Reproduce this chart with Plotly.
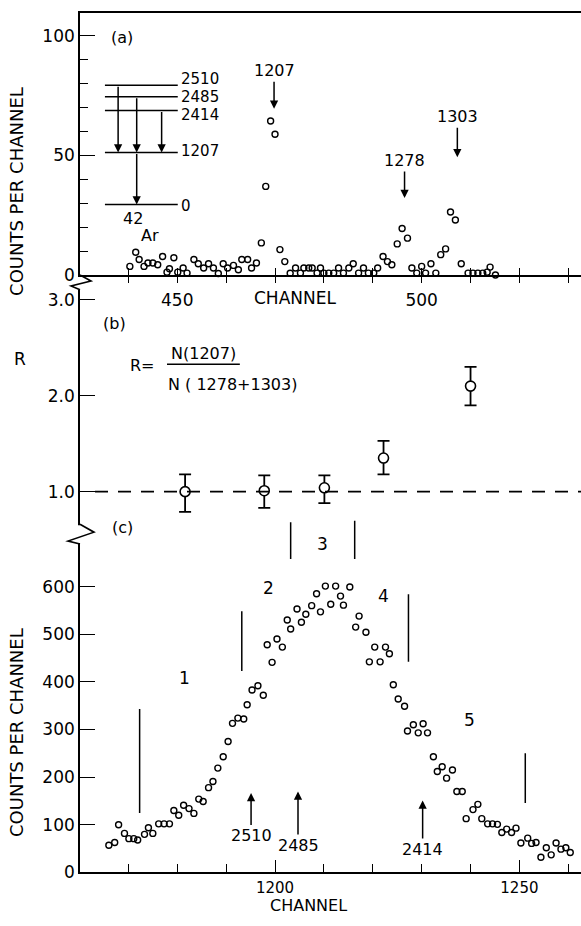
import plotly.graph_objects as go

# ---------------- data ----------------
# panel (a): counts per channel, channels 430-530
a_channel = [440.3, 441.5, 442.2, 443.2, 444.0, 445.0, 446.0, 447.0, 447.9, 448.4,
             449.3, 450.1, 451.2, 452.0, 453.4, 454.3, 455.4, 456.4, 457.4, 458.4,
             459.4, 460.3, 461.5, 462.5, 463.2, 464.4, 465.2, 466.2, 467.2, 468.1,
             469.1, 470.0, 471.0, 472.0, 473.1, 474.2, 475.2, 475.9, 476.9, 477.6,
             478.6, 479.3, 480.0, 481.0, 482.0, 483.0, 484.0, 485.1, 486.0, 487.1,
             488.1, 489.1, 490.2, 491.0, 492.1, 493.0, 493.9, 495.0, 496.0, 497.1,
             498.0, 499.0, 500.0, 500.8, 501.9, 502.9, 503.9, 504.9, 505.9, 506.9,
             508.1, 509.5, 510.5, 511.5, 512.5, 513.4, 514.0, 515.1]
a_counts = [3.6, 9.5, 6.5, 3.6, 5, 5, 4.3, 7.7, 1.2, 2.6,
            7.2, 1.2, 2.9, 0.8, 6.5, 4.7, 2.9, 4.7, 2.9, 0.6,
            4.7, 2.9, 4, 2.2, 6.5, 6.5, 2.9, 5, 13.4, 37,
            64.3, 58.8, 10.6, 5.6, 0.7, 2.9, 0.8, 2.9, 2.9, 2.9,
            0.8, 2.9, 0.8, 0.8, 0.8, 2.9, 0.8, 2.9, 4.7, 0.8,
            2.9, 0.8, 0.8, 2.9, 7.7, 5.6, 4.3, 13, 19.4, 15.4,
            2.9, 0.8, 3.6, 0.8, 4.7, 0.8, 8.5, 10.9, 26.3, 23,
            4.7, 0.8, 0.8, 0.8, 0.8, 1.2, 3.3, 0]
a_tick_vals = [440, 450, 460, 470, 480, 490, 500, 510, 520, 530]
a_tick_text = ["", "450", "", "", "", "", "500", "", "", ""]

peak_labels = ["1207", "1278", "1303"]
peak_channel = [469.8, 496.5, 507.3]
peak_counts = [69.4, 32.2, 49.2]

level_energies = ["2510", "2485", "2414", "1207", "0"]

# panel (b): ratio R
r_channel = [1181.6, 1197.8, 1210.1, 1222.2, 1240.0]
r_value = [1.00, 1.01, 1.04, 1.35, 2.10]
r_high = [1.18, 1.17, 1.17, 1.53, 2.30]
r_low = [0.79, 0.83, 0.88, 1.18, 1.90]
r_reference = 1.0

# panel (c): counts per channel, channels 1160-1262
c_channel = [1166.0, 1167.2, 1168.0, 1169.2, 1170.1, 1171.1, 1171.9, 1173.3, 1174.1, 1175.0,
             1176.2, 1177.3, 1178.4, 1179.3, 1180.3, 1181.3, 1182.4, 1183.4, 1184.4, 1185.3,
             1186.4, 1187.3, 1188.3, 1189.4, 1190.4, 1191.3, 1192.4, 1193.6, 1194.3, 1195.3,
             1196.5, 1197.6, 1198.4, 1199.4, 1200.4, 1201.5, 1202.5, 1203.2, 1204.5, 1205.4,
             1206.3, 1207.5, 1208.5, 1209.3, 1210.3, 1211.4, 1212.4, 1213.4, 1214.0, 1215.3,
             1216.5, 1217.2, 1218.6, 1219.3, 1220.4, 1221.5, 1222.6, 1223.4, 1224.2, 1225.2,
             1226.5, 1227.1, 1228.3, 1229.3, 1230.3, 1231.2, 1232.4, 1233.2, 1234.2, 1235.1,
             1236.3, 1237.2, 1238.3, 1239.1, 1240.5, 1241.5, 1242.3, 1243.5, 1244.5, 1245.5,
             1246.4, 1247.4, 1248.4, 1249.3, 1250.3, 1251.7, 1252.5, 1253.4, 1254.4, 1255.5,
             1256.5, 1257.5, 1258.5, 1259.5, 1260.4]
c_counts = [57, 63, 100, 82, 71, 71, 68, 80, 94, 82,
            102, 102, 102, 130, 120, 141, 134, 124, 154, 149,
            178, 191, 219, 243, 275, 313, 324, 322, 352, 383,
            392, 372, 478, 441, 490, 473, 530, 511, 553, 525,
            542, 560, 585, 547, 601, 563, 601, 580, 561, 599,
            515, 538, 504, 442, 473, 442, 473, 459, 394, 364,
            349, 297, 310, 293, 312, 293, 243, 212, 222, 198,
            215, 170, 170, 113, 132, 143, 113, 102, 102, 101,
            84, 91, 84, 93, 62, 72, 61, 63, 32, 52,
            37, 62, 49, 52, 42]
c_tick_vals = [1200, 1250]
c_y_ticks = [0, 100, 200, 300, 400, 500, 600]

region_names = ["1", "2", "3", "4", "5"]
region_bound_channel = [1172.3, 1193.2, 1203.2, 1216.3, 1227.3, 1251.2]
region_bound_low = [125, 423, 658, 658, 442, 146]
region_bound_high = [343, 548, 735, 738, 584, 250]

gamma_labels = ["2510", "2485", "2414"]
gamma_channel = [1195.1, 1204.7, 1230.2]
gamma_counts = [167, 170, 151]

# ---------------- layout helpers ----------------
W, H = 581, 926
L = 80
FONT = "DejaVu Sans"
A_RANGE = [430.1, 532.6]
C_RANGE = [1160.1, 1262.6]


def px(x):
    return (x - L) / (W - L)


def py(y):
    return (H - y) / H


black = "black"
fig = go.Figure()

# panel (a)
fig.add_trace(go.Scatter(
    x=a_channel, y=a_counts, mode="markers", xaxis="x", yaxis="y",
    marker=dict(symbol="circle-open", size=6, color=black, line=dict(width=1.4, color=black)),
    cliponaxis=False, showlegend=False, hoverinfo="skip"))
fig.add_trace(go.Scatter(x=[None], y=[None], xaxis="x4", yaxis="y", showlegend=False,
                         hoverinfo="skip", mode="markers"))

# panel (b)
fig.add_trace(go.Scatter(
    x=r_channel, y=r_value, mode="markers", xaxis="x2", yaxis="y2",
    error_y=dict(type="data", symmetric=False,
                 array=[h - v for h, v in zip(r_high, r_value)],
                 arrayminus=[v - lo for v, lo in zip(r_value, r_low)],
                 thickness=1.8, width=6, color=black),
    marker=dict(symbol="circle", size=10, color="white", line=dict(width=1.6, color=black)),
    showlegend=False, hoverinfo="skip"))

# panel (c) region boundaries
bx, by = [], []
for x, lo, hi in zip(region_bound_channel, region_bound_low, region_bound_high):
    bx += [x, x, None]
    by += [lo, hi, None]
fig.add_trace(go.Scatter(x=bx, y=by, mode="lines", xaxis="x3", yaxis="y3",
                         line=dict(color=black, width=1.5), showlegend=False, hoverinfo="skip"))
fig.add_trace(go.Scatter(
    x=c_channel, y=c_counts, mode="markers", xaxis="x3", yaxis="y3",
    marker=dict(symbol="circle-open", size=6, color=black, line=dict(width=1.4, color=black)),
    cliponaxis=False, showlegend=False, hoverinfo="skip"))

axis_common = dict(showgrid=False, zeroline=False, linecolor=black, linewidth=1.6,
                   tickcolor=black, tickwidth=1.4)

fig.update_layout(
    width=W, height=H, autosize=False,
    margin=dict(l=L, r=0, t=0, b=0),
    paper_bgcolor="white", plot_bgcolor="white",
    font=dict(family=FONT, size=16, color=black),
    xaxis=dict(domain=[0, 1], anchor="y", range=A_RANGE, showline=True, mirror=True,
               ticks="outside", ticklen=6, tickvals=a_tick_vals, ticktext=a_tick_text,
               tickfont=dict(size=17), ticklabelstandoff=3, **axis_common),
    xaxis4=dict(overlaying="x", anchor="y", range=A_RANGE, ticks="inside", ticklen=7,
                tickvals=a_tick_vals, showticklabels=False, showline=False,
                **axis_common),
    yaxis=dict(domain=[py(278), py(13)], anchor="x", range=[0, 109.5], showline=True,
               ticks="inside", ticklen=15, tickvals=[0, 50, 100], tickfont=dict(size=17),
               minor=dict(tick0=0, dtick=10, ticks="inside", ticklen=8,
                          tickcolor=black, tickwidth=1.4),
               **axis_common),
    xaxis2=dict(domain=[0, 1], anchor="y2", range=C_RANGE, visible=False),
    yaxis2=dict(domain=[py(530), py(293)], anchor="x2",
                range=[1 - (530 - 497) / 97.0, 3 + (303 - 293) / 97.0], showline=True,
                ticks="inside", ticklen=15, tickvals=[1, 2, 3], ticktext=["1.0", "2.0", "3.0"],
                tickfont=dict(size=17), **axis_common),
    xaxis3=dict(domain=[0, 1], anchor="y3", range=C_RANGE, showline=True,
                ticks="inside", ticklen=13, tickvals=c_tick_vals, tickfont=dict(size=15),
                ticklabelstandoff=1,
                minor=dict(tick0=1160, dtick=10, ticks="inside", ticklen=9,
                           tickcolor=black, tickwidth=1.4),
                **axis_common),
    yaxis3=dict(domain=[py(882), py(525)], anchor="x3", range=[0, (882 - 525) / 0.4817],
                showline=True, ticks="inside", ticklen=15, tickvals=c_y_ticks,
                tickfont=dict(size=17), **axis_common),
)

shapes = []
ann = []

# reference line R = 1
shapes.append(dict(type="line", xref="x2 domain", yref="y2", x0=0.03, x1=1,
                   y0=r_reference, y1=r_reference,
                   line=dict(color=black, width=1.6, dash="13px,10px")))
# fraction bar
shapes.append(dict(type="line", xref="x2", yref="y2", x0=1177.9, x1=1192.8,
                   y0=2.327, y1=2.327, line=dict(color=black, width=1.5)))

# level scheme in panel (a)
level_y = [79.3, 74.5, 68.7, 51.2, 29.5]
level_label_y = [81.8, 74.4, 66.9, 52.0, 29.0]
for e, yv, ly in zip(level_energies, level_y, level_label_y):
    shapes.append(dict(type="line", xref="x", yref="y", x0=435.2, x1=450.1, y0=yv, y1=yv,
                       line=dict(color=black, width=1.5)))
    ann.append(dict(text=e, xref="x", yref="y", x=450.6, y=ly, xanchor="left",
                    yanchor="middle", showarrow=False, font=dict(size=15), borderpad=0))
transitions = [(437.9, 0, 3), (441.7, 1, 3), (441.7, 3, 4), (446.8, 2, 3)]
for x, i0, i1 in transitions:
    ann.append(dict(text="", xref="x", yref="y", x=x, y=level_y[i1], axref="x", ayref="y",
                    ax=x, ay=level_y[i0], showarrow=True, arrowhead=2, arrowsize=1.1,
                    arrowwidth=1.5, arrowcolor=black, standoff=0))
ann.append(dict(text="42", xref="x", yref="y", x=440.9, y=23.5, showarrow=False,
                font=dict(size=16)))
ann.append(dict(text="Ar", xref="x", yref="y", x=444.4, y=16.5, showarrow=False,
                font=dict(size=16)))

# peak labels in (a)
offs = [-38, -37.5, -40.5]
for t, x, y, o in zip(peak_labels, peak_channel, peak_counts, offs):
    ann.append(dict(text=t, xref="x", yref="y", x=x, y=y, ax=0, ay=o, showarrow=True,
                    arrowhead=2, arrowsize=1.1, arrowwidth=1.5, arrowcolor=black,
                    font=dict(size=16)))

ann.append(dict(text="(a)", xref="x", yref="y", x=438.6, y=99.2, showarrow=False,
                font=dict(size=16)))
ann.append(dict(text="CHANNEL", xref="paper", yref="paper", x=px(295), y=py(301.5),
                xanchor="center", yanchor="middle", showarrow=False, font=dict(size=17)))

# panel (b) texts
ann.append(dict(text="(b)", xref="x2", yref="y2", x=1167.2, y=2.75, showarrow=False))
ann.append(dict(text="R=", xref="x2", yref="y2", x=1175.8, y=2.31, xanchor="right",
                showarrow=False))
ann.append(dict(text="N(1207)", xref="x2", yref="y2", x=1185.3, y=2.44, showarrow=False))
ann.append(dict(text="N ( 1278+1303)", xref="x2", yref="y2", x=1177.6, y=2.12,
                xanchor="left", showarrow=False))

# panel (c) texts
ann.append(dict(text="(c)", xref="x3", yref="y3", x=1168.8, y=724, showarrow=False))
region_label_x = [1181.4, 1198.6, 1209.7, 1222.2, 1239.8]
region_label_y = [409, 596, 690, 581, 319]
for t, x, y in zip(region_names, region_label_x, region_label_y):
    ann.append(dict(text=t, xref="x3", yref="y3", x=x, y=y, showarrow=False,
                    font=dict(size=17)))
goffs = [43, 54, 49]
for t, x, y, o in zip(gamma_labels, gamma_channel, gamma_counts, goffs):
    ann.append(dict(text=t, xref="x3", yref="y3", x=x, y=y, ax=0, ay=o, showarrow=True,
                    arrowhead=2, arrowsize=1.1, arrowwidth=1.5, arrowcolor=black,
                    font=dict(size=16)))
ann.append(dict(text="CHANNEL", xref="paper", yref="paper", x=px(308), y=0,
                xanchor="center", yanchor="bottom", showarrow=False, font=dict(size=16),
                borderpad=0))

# y-axis titles
ann.append(dict(text="COUNTS PER CHANNEL", xref="paper", yref="paper", x=px(17), y=py(194),
                xanchor="center", yanchor="middle",
                textangle=-90, showarrow=False, font=dict(size=18)))
ann.append(dict(text="COUNTS PER CHANNEL", xref="paper", yref="paper", x=px(17), y=py(741),
                xanchor="center", yanchor="middle",
                textangle=-90, showarrow=False, font=dict(size=18)))
ann.append(dict(text="R", xref="paper", yref="paper", x=px(20), y=py(363),
                xanchor="center", yanchor="middle", showarrow=False, font=dict(size=17)))


def path(pts):
    return "M " + " L ".join(f"{px(a)},{py(b)}" for a, b in pts)


# axis breaks
shapes.append(dict(type="rect", xref="paper", yref="paper", x0=px(76), x1=px(84),
                   y0=py(549), y1=py(531), fillcolor="white", line=dict(width=0), layer="above"))
shapes.append(dict(type="path", xref="paper", yref="paper", layer="above",
                   path=path([(80, 278), (91, 284), (71, 289), (80, 293)]),
                   line=dict(color=black, width=1.6)))
shapes.append(dict(type="path", xref="paper", yref="paper", layer="above",
                   path=path([(80, 530), (94, 538), (68, 547), (80, 550)]),
                   line=dict(color=black, width=1.6)))

fig.update_layout(shapes=shapes, annotations=ann)
fig.write_html("out.html")
